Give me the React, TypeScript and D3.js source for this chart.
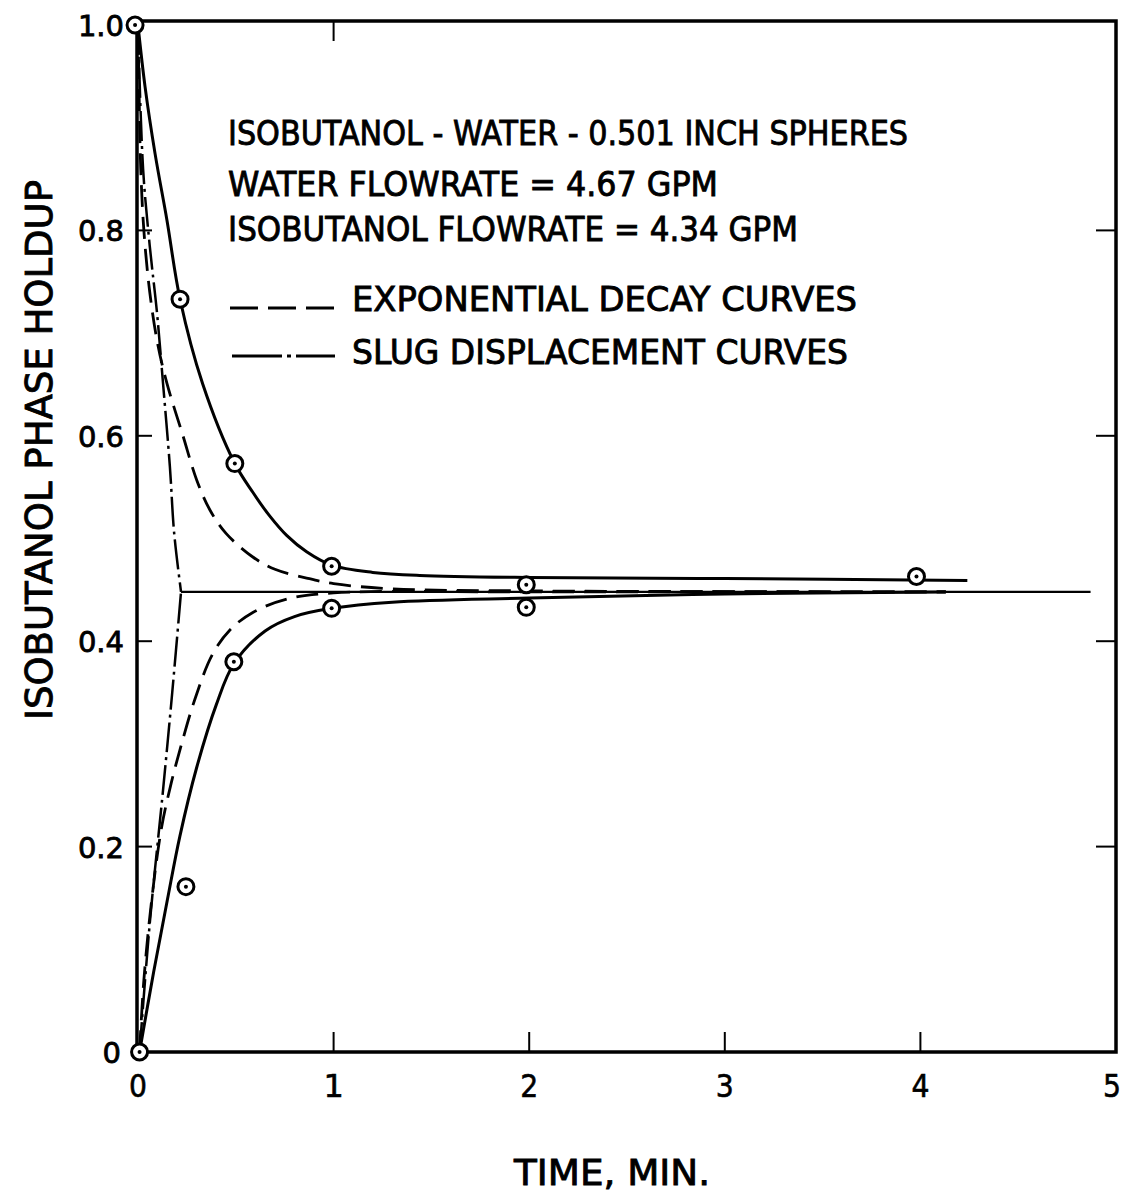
import React from "react";
import * as d3 from "d3";

type P = [number, number];

// ---- Data ----
const timeTicks = [0, 1, 2, 3, 4, 5];
const timeTickLabels = ["0", "1", "2", "3", "4", "5"];
const holdupTicks = [0, 0.2, 0.4, 0.6, 0.8, 1.0];
const holdupTickLabels = ["0", "0.2", "0.4", "0.6", "0.8", "1.0"];

// measured points (circles)
const upperPoints: P[] = [[-0.015, 1.0], [0.215, 0.733], [0.495, 0.573], [0.99, 0.473], [1.985, 0.455], [3.98, 0.463]];
const lowerPoints: P[] = [[0.008, 0.0], [0.245, 0.161], [0.49, 0.38], [0.99, 0.432], [1.985, 0.433]];

// solid fitted curves
const upperSolid: P[] = [[0, 1.0], [0.036, 0.94], [0.087, 0.875], [0.148, 0.81], [0.215, 0.733], [0.33, 0.651], [0.495, 0.573], [0.587, 0.545], [0.673, 0.522], [0.76, 0.503], [0.862, 0.487], [0.99, 0.474], [1.2, 0.467], [1.44, 0.464], [2.0, 0.462], [3.0, 0.461], [4.24, 0.459]];
const lowerSolid: P[] = [[0.008, 0.0], [0.08, 0.078], [0.15, 0.148], [0.214, 0.21], [0.3, 0.277], [0.4, 0.338], [0.49, 0.378], [0.65, 0.41], [0.8, 0.424], [0.99, 0.432], [1.3, 0.438], [2.0, 0.442], [3.0, 0.446], [4.13, 0.448]];

// exponential decay curves (dashed)
const upperExp: P[] = [[0, 1.0], [0.006, 0.93], [0.014, 0.86], [0.03, 0.8], [0.06, 0.74], [0.1, 0.69], [0.148, 0.651], [0.23, 0.6], [0.3, 0.557], [0.367, 0.528], [0.45, 0.505], [0.587, 0.482], [0.7, 0.47], [0.862, 0.4615], [1.0, 0.456], [1.3, 0.451], [2.0, 0.449], [4.13, 0.448]];
const lowerExp: P[] = [[0.008, 0.0], [0.03, 0.07], [0.07, 0.148], [0.12, 0.218], [0.17, 0.262], [0.22, 0.298], [0.29, 0.343], [0.38, 0.387], [0.47, 0.411], [0.587, 0.428], [0.76, 0.441], [1.0, 0.447], [2.0, 0.448], [4.13, 0.448]];

// slug displacement curves (dash-dot)
const upperSlug: P[] = [[0, 1.0], [0.026, 0.86], [0.06, 0.785], [0.097, 0.72], [0.128, 0.651], [0.163, 0.57], [0.185, 0.505], [0.22, 0.448]];
const lowerSlug: P[] = [[0.008, 0.0], [0.06, 0.125], [0.128, 0.255], [0.175, 0.35], [0.22, 0.448]];
const slugPlateau: P[] = [[0.22, 0.448], [4.87, 0.448]];

const titleLines = [
  "ISOBUTANOL - WATER - 0.501 INCH SPHERES",
  "WATER  FLOWRATE = 4.67  GPM",
  "ISOBUTANOL  FLOWRATE =  4.34  GPM",
];
const legendLabels = ["EXPONENTIAL  DECAY  CURVES", "SLUG  DISPLACEMENT  CURVES"];

export default function App() {
  const W = 1128, H = 1196;
  const x = d3.scaleLinear().domain([0, 5]).range([138, 1116]);
  const y = d3.scaleLinear().domain([0, 1]).range([1052, 25]);
  const line = d3.line<P>().x(d => x(d[0])).y(d => y(d[1])).curve(d3.curveCatmullRom.alpha(0.5));
  const straight = d3.line<P>().x(d => x(d[0])).y(d => y(d[1]));
  const font = "'DejaVu Sans', 'Liberation Sans', sans-serif";
  const frameTop = y(1) - 4;
  const txt = { fontFamily: font, fontSize: 34, stroke: "#000", strokeWidth: 0.9, lengthAdjust: "spacingAndGlyphs" as const };

  return (
    <svg width={W} height={H} style={{ display: "block", position: "absolute", left: 0, top: 0, background: "#fff" }}>
      <rect x={0} y={0} width={W} height={H} fill="#fff" />
      {/* frame */}
      <rect x={x(0) - 1} y={frameTop} width={x(5) - x(0) + 1} height={y(0) - frameTop} fill="none" stroke="#000" strokeWidth={3.5} />
      {/* bottom ticks */}
      {timeTicks.slice(1, 5).map((t, i) => (
        <line key={"bt" + i} x1={x(t)} x2={x(t)} y1={y(0)} y2={y(0) - 20} stroke="#000" strokeWidth={2} />
      ))}
      {/* top tick */}
      <line x1={x(1)} x2={x(1)} y1={frameTop} y2={frameTop + 20} stroke="#000" strokeWidth={2} />
      {/* left ticks */}
      {holdupTicks.slice(1, 5).map((v, i) => (
        <line key={"lt" + i} x1={x(0)} x2={x(0) + 14} y1={y(v)} y2={y(v)} stroke="#000" strokeWidth={2} />
      ))}
      {/* right ticks */}
      {holdupTicks.slice(1, 5).map((v, i) => (
        <line key={"rt" + i} x1={x(5)} x2={x(5) - 20} y1={y(v)} y2={y(v)} stroke="#000" strokeWidth={2} />
      ))}
      {/* x tick labels */}
      {timeTicks.map((t, i) => (
        <text key={"xl" + i} x={x(t) - (t === 5 ? 4 : 0)} y={1097} textAnchor="middle" fontFamily={font} fontSize={32} stroke="#000" strokeWidth={0.6}
          textLength={t === 1 ? undefined : 18} lengthAdjust="spacingAndGlyphs">{timeTickLabels[i]}</text>
      ))}
      {/* y tick labels */}
      {holdupTicks.map((v, i) => (
        <text key={"yl" + i} x={v === 0 ? 121 : 124} y={y(v) + 11} textAnchor="end" fontFamily={font} fontSize={29} stroke="#000" strokeWidth={0.8}>{holdupTickLabels[i]}</text>
      ))}
      {/* axis titles */}
      <text x={612} y={1185} textAnchor="middle" {...txt} fontSize={36} textLength={196}>TIME, MIN.</text>
      <text transform={`translate(52,450) rotate(-90)`} textAnchor="middle" {...txt} fontSize={38} textLength={540}>ISOBUTANOL  PHASE  HOLDUP</text>

      {/* annotation */}
      <text x={228} y={145} {...txt} textLength={680}>{titleLines[0]}</text>
      <text x={228} y={196} {...txt} textLength={490}>{titleLines[1]}</text>
      <text x={228} y={241} {...txt} textLength={570}>{titleLines[2]}</text>
      {/* legend */}
      <line x1={230} x2={335} y1={308} y2={308} stroke="#000" strokeWidth={3} strokeDasharray="28,10" />
      <text x={352} y={311} {...txt} textLength={505}>{legendLabels[0]}</text>
      <line x1={232} x2={335} y1={356} y2={356} stroke="#000" strokeWidth={3} strokeDasharray="50,5,4,5,60" />
      <text x={352} y={364} {...txt} textLength={496}>{legendLabels[1]}</text>

      {/* slug displacement curves */}
      <path d={line(upperSlug) || ""} fill="none" stroke="#000" strokeWidth={2.5} strokeDasharray="30,5,3,5" />
      <path d={line(lowerSlug) || ""} fill="none" stroke="#000" strokeWidth={2.5} strokeDasharray="30,5,3,5" />
      <path d={straight(slugPlateau) || ""} fill="none" stroke="#000" strokeWidth={2.2} />
      {/* exponential decay curves */}
      <path d={line(upperExp) || ""} fill="none" stroke="#000" strokeWidth={2.8} strokeDasharray="22,10" />
      <path d={line(lowerExp) || ""} fill="none" stroke="#000" strokeWidth={2.8} strokeDasharray="22,10" />
      {/* solid curves */}
      <path d={line(upperSolid) || ""} fill="none" stroke="#000" strokeWidth={3} />
      <path d={line(lowerSolid) || ""} fill="none" stroke="#000" strokeWidth={3} />

      {/* data points */}
      {[...upperPoints, ...lowerPoints].map((p, i) => (
        <g key={"pt" + i}>
          <circle cx={x(p[0])} cy={y(p[1])} r={8} fill="#fff" stroke="#000" strokeWidth={3} />
          <circle cx={x(p[0])} cy={y(p[1])} r={2} fill="#000" />
        </g>
      ))}
    </svg>
  );
}
